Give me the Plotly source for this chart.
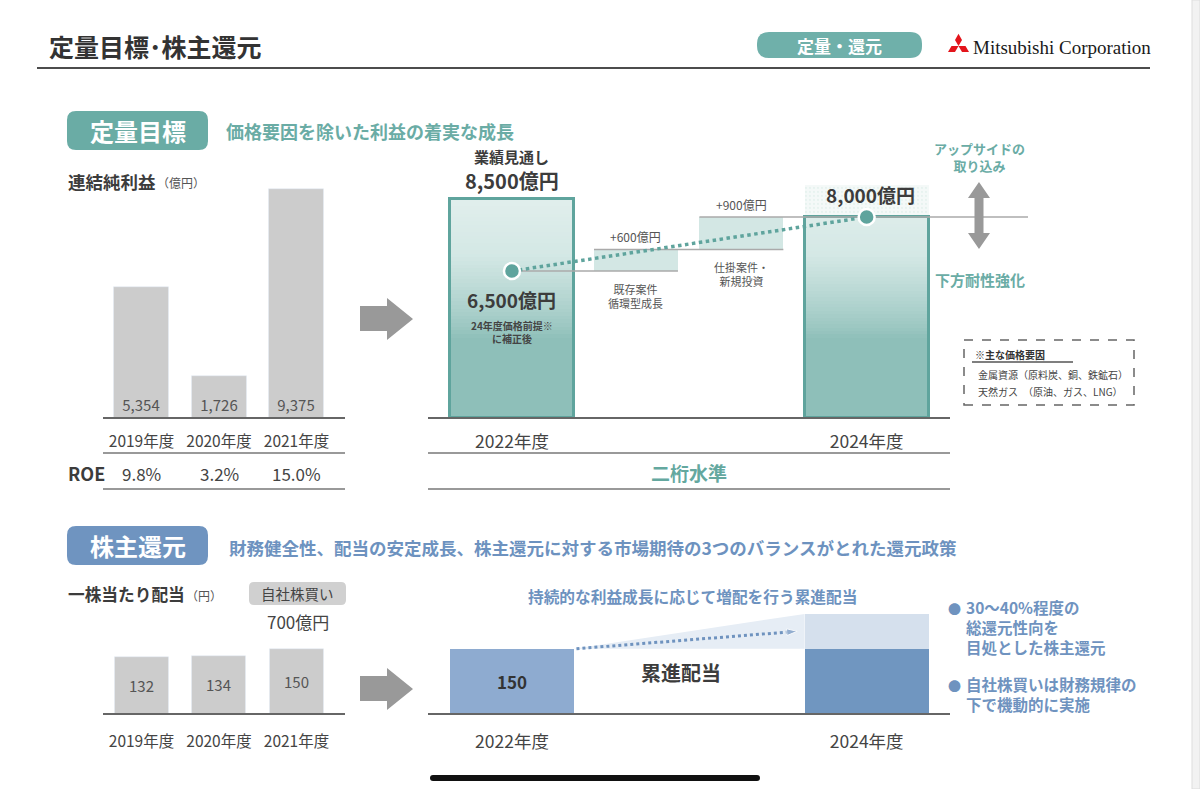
import math
import plotly.graph_objects as go

# --- Data ---
hist_years = ["2019年度", "2020年度", "2021年度"]
net_income = [5354, 1726, 9375]          # 連結純利益 (億円)
roe = [9.8, 3.2, 15.0]                   # ROE (%)
dividend = [132, 134, 150]               # 一株当たり配当 (円)
buyback_label = "700億円"

plan_years = ["2022年度", "2024年度"]
outlook_2022 = 8500                      # 業績見通し
adjusted_2022 = 6500                     # 24年度価格前提に補正後
step_labels = ["既存案件<br>循環型成長", "仕掛案件・<br>新規投資"]
step_values = [600, 900]
target_2024 = 8000
dps_2022 = 150
dps_2024_upside = 80                     # not labelled

# --- Page helpers ---
W, H = 1200, 789
FONT = "Noto Sans CJK JP"
TEAL = "#6aaca5"
TEAL_LINE = "#5fa49d"
BLUE = "#6f94c0"
DARK = "#3c3c3c"


def px(x):
    return x / W


def py(y):
    return 1 - y / H


def pt(x, y):
    return f"{px(x):.5f},{py(y):.5f}"


def rrect(x0, y0, x1, y1, r):
    return (f"M {pt(x0 + r, y0)} L {pt(x1 - r, y0)} Q {pt(x1, y0)} {pt(x1, y0 + r)} "
            f"L {pt(x1, y1 - r)} Q {pt(x1, y1)} {pt(x1 - r, y1)} L {pt(x0 + r, y1)} "
            f"Q {pt(x0, y1)} {pt(x0, y1 - r)} L {pt(x0, y0 + r)} Q {pt(x0, y0)} {pt(x0 + r, y0)} Z")


def poly(points):
    return "M " + " L ".join(pt(x, y) for x, y in points) + " Z"


shapes = []
annotations = []


def path(d, fill, line_color=None, width=0):
    shapes.append(dict(type="path", xref="paper", yref="paper", path=d,
                       fillcolor=fill, line=dict(color=line_color or fill, width=width)))


def hline(x0, x1, y, color="#666666", width=1.5, dash="solid"):
    shapes.append(dict(type="line", xref="paper", yref="paper", x0=px(x0), x1=px(x1),
                       y0=py(y), y1=py(y), line=dict(color=color, width=width, dash=dash)))


def txt(x, y, s, size, color=DARK, bold=False, xanchor="left", family=FONT, **kw):
    annotations.append(dict(x=px(x), y=py(y), xref="paper", yref="paper", text=s,
                            showarrow=False, xanchor=xanchor, yanchor=kw.pop("yanchor", "middle"),
                            align=kw.pop("align", xanchor if xanchor != "center" else "center"),
                            font=dict(family=family, size=size, color=color,
                                      weight="bold" if bold else "normal"), **kw))


def ann(x, y, s, size, xref, yref, color=DARK, bold=False, **kw):
    annotations.append(dict(x=x, y=y, xref=xref, yref=yref, text=s, showarrow=False,
                            font=dict(family=FONT, size=size, color=color,
                                      weight="bold" if bold else "normal"), **kw))


def lerp(c0, c1, t):
    a = [int(c0[i:i + 2], 16) for i in (1, 3, 5)]
    b = [int(c1[i:i + 2], 16) for i in (1, 3, 5)]
    return "#" + "".join(f"{round(a[k] + (b[k] - a[k]) * t):02x}" for k in range(3))


# --- Axes geometry ---
Y2_MIN, Y2_MAX = 2417, 10417
X2_MIN, X2_MAX = -0.677, 4.161
X4_MIN, X4_MAX = -0.677, 3.532
plan_x = [0, 2.86]
step_x = [1.0, 1.85]
BIG_W = 1.0
STEP_W = 0.677

fig = go.Figure()

# --- Top left: 連結純利益 ---
fig.add_trace(go.Bar(
    x=hist_years, y=net_income, width=0.71, marker=dict(color="#cccccc"),
    text=[f"{v:,}" for v in net_income], textposition="inside", insidetextanchor="start",
    textfont=dict(family=FONT, size=15, color="#555555"), textangle=0,
    xaxis="x", yaxis="y", hoverinfo="skip"))


def teal_bar(xpos, top):
    # stacked slices give the light-to-dark vertical gradient of the bars
    n = 60
    bases = [Y2_MIN + (top - Y2_MIN) * i / n for i in range(n)]
    colors = []
    for b in bases:
        if b < 4600:
            colors.append("#8ebfb9")
        elif b < 6900:
            t = (b - 4600) / 2300
            colors.append(lerp("#8ebfb9", "#d4e8e5", t ** 0.8))
        else:
            t = min(1, (b - 6900) / 1700)
            colors.append(lerp("#d4e8e5", "#e2efed", t))
    return go.Bar(
        x=[xpos] * n, base=bases, y=[top - b for b in bases], width=BIG_W,
        marker=dict(color=colors, line=dict(width=0)),
        xaxis="x2", yaxis="y2", hoverinfo="skip")


fig.add_trace(teal_bar(plan_x[0], outlook_2022))
fig.add_trace(teal_bar(plan_x[1], target_2024))

# halftone haze above 2024 bar
fig.add_trace(go.Bar(
    x=[plan_x[1]], base=[target_2024], y=[900], width=BIG_W,
    marker=dict(color="#f4f9f8", line=dict(width=0),
                pattern=dict(shape=".", fgcolor="#dbebe8", bgcolor="#f4f9f8", solidity=0.25, size=4)),
    xaxis="x2", yaxis="y2", hoverinfo="skip"))

# waterfall steps
step_bases = [adjusted_2022, adjusted_2022 + step_values[0]]
fig.add_trace(go.Bar(
    x=step_x, base=step_bases, y=step_values, width=STEP_W,
    marker=dict(color="#d3e7e4", line=dict(width=0)),
    xaxis="x2", yaxis="y2", hoverinfo="skip"))

# connector lines
lvl1 = adjusted_2022 + step_values[0]
lvl2 = lvl1 + step_values[1]
for xs, yv in [([plan_x[0], step_x[0] + STEP_W / 2], adjusted_2022),
               ([step_x[0] - STEP_W / 2, step_x[1] + STEP_W / 2], lvl1),
               ([step_x[1] - STEP_W / 2, X2_MAX], lvl2)]:
    fig.add_trace(go.Scatter(x=xs, y=[yv, yv], mode="lines", line=dict(color="#aaaaaa", width=1.5),
                             xaxis="x2", yaxis="y2", hoverinfo="skip"))

# teal outlines of the big bars
fig.add_trace(go.Bar(
    x=plan_x, base=[Y2_MIN, Y2_MIN], y=[outlook_2022 - Y2_MIN, target_2024 - Y2_MIN], width=BIG_W,
    marker=dict(color="rgba(0,0,0,0)", line=dict(color=TEAL_LINE, width=3)),
    xaxis="x2", yaxis="y2", hoverinfo="skip"))

# dotted growth line
fig.add_trace(go.Scatter(
    x=plan_x, y=[adjusted_2022, target_2024], mode="lines+markers",
    line=dict(color=TEAL_LINE, width=3.5, dash="dot"),
    marker=dict(size=16, color=TEAL_LINE, line=dict(color="white", width=2.5)),
    xaxis="x2", yaxis="y2", hoverinfo="skip"))

# --- Bottom left: 一株当たり配当 ---
fig.add_trace(go.Bar(
    x=hist_years, y=dividend, width=0.70, marker=dict(color="#cccccc"),
    text=[str(v) for v in dividend], textposition="inside", insidetextanchor="middle",
    textfont=dict(family=FONT, size=15, color="#555555"), textangle=0,
    xaxis="x3", yaxis="y3", hoverinfo="skip"))

# --- Bottom middle: 累進配当 ---
dps_top = dps_2022 + dps_2024_upside
wedge_x = [plan_x[0] + BIG_W / 2, plan_x[1] - BIG_W / 2, plan_x[1] - BIG_W / 2]
fig.add_trace(go.Scatter(
    x=wedge_x, y=[dps_2022, dps_top, dps_2022], fill="toself", mode="lines",
    fillcolor="#e6edf5", line=dict(width=0), xaxis="x4", yaxis="y4", hoverinfo="skip"))
fig.add_trace(go.Bar(
    x=plan_x, y=[dps_2022, dps_2022], width=BIG_W,
    marker=dict(color=["#8eabd0", "#7096c0"], line=dict(width=0)),
    text=[str(dps_2022), ""], textposition="inside", insidetextanchor="middle",
    textfont=dict(family=FONT, size=17, color="#333333", weight="bold"), textangle=0,
    xaxis="x4", yaxis="y4", hoverinfo="skip"))
fig.add_trace(go.Bar(
    x=[plan_x[1]], base=[dps_2022], y=[dps_2024_upside], width=BIG_W,
    marker=dict(color="#d5e0ed", line=dict(width=0)),
    xaxis="x4", yaxis="y4", hoverinfo="skip"))
fig.add_trace(go.Scatter(
    x=[plan_x[0] + BIG_W / 2 + 0.02, plan_x[1] - BIG_W / 2 - 0.06],
    y=[dps_2022, dps_2022 + dps_2024_upside / 2], mode="lines+markers",
    line=dict(color="#6f93bf", width=3, dash="dot"),
    marker=dict(symbol="arrow", angleref="previous", size=[0, 11], color="#6f93bf"),
    xaxis="x4", yaxis="y4", hoverinfo="skip"))

# --- Decorations: header ---
txt(47, 46, "定量目標･株主還元", 25, color="#333333", bold=True)
hline(37, 1150, 68, color="#111111", width=1.6)
path(rrect(757, 32, 922, 58, 12), "#6fb0aa")
txt(839.5, 45, "定量・還元", 17, color="white", bold=True, xanchor="center")
# Mitsubishi logo
cx, cy, s = 958.5, 46.0, 7.0
for th in (90, 210, 330):
    pts = []
    for r, a in ((0, 0), (s, th - 30), (s * math.sqrt(3), th), (s, th + 30)):
        pts.append((cx + r * math.cos(math.radians(a)), cy - r * math.sin(math.radians(a))))
    path(poly(pts), "#e3141b")
txt(971, 47, "Mitsubishi Corporation", 19, color="#1a1a1a", family="Liberation Serif")
shapes.append(dict(type="rect", xref="paper", yref="paper", x0=px(1192), x1=1, y0=0, y1=1,
                   fillcolor="#f2f2f2", line=dict(color="#dddddd", width=1)))

# --- Section 1 ---
path(rrect(67, 111, 208, 150, 9), TEAL)
txt(137.5, 130, "定量目標", 24, color="white", bold=True, xanchor="center")
txt(224, 131, "価格要因を除いた利益の着実な成長", 18, color=TEAL, bold=True)
txt(66, 181, "連結純利益", 17.5, bold=True)
txt(155, 182, "（億円）", 12, color="#555555")

hline(103, 345, 418, color="#666666", width=1.8)
hline(103, 345, 453, color="#777777", width=1.3)
hline(103, 345, 489, color="#777777", width=1.3)
txt(66, 473, "ROE", 18, bold=True)
for yr, v in zip(hist_years, roe):
    ann(yr, py(473), f"{v:.1f}%", 17, "x", "paper", color="#444444", yanchor="middle")

path(poly([(360, 306), (387, 306), (387, 298), (413, 319), (387, 340), (387, 331), (360, 331)]), "#999999")

hline(428, 950, 418, color="#666666", width=1.8)
hline(428, 950, 453, color="#777777", width=1.3)
hline(428, 950, 489, color="#777777", width=1.3)
txt(689, 472, "二桁水準", 19, color="#64a89f", bold=True, xanchor="center")

ann(plan_x[0], outlook_2022, "8,500億円", 20, "x2", "y2", bold=True, yanchor="bottom", yshift=2)
ann(plan_x[0], outlook_2022, "業績見通し", 15, "x2", "y2", bold=True, yanchor="bottom", yshift=30)
ann(plan_x[0], adjusted_2022, "6,500億円", 19, "x2", "y2", bold=True, yanchor="top", yshift=-13)
ann(plan_x[0], adjusted_2022, "24年度価格前提※<br>に補正後", 10, "x2", "y2", color="#444444",
    bold=True, yanchor="top", yshift=-45)
ann(plan_x[1] + 0.03, target_2024, f"{target_2024:,}億円", 19, "x2", "y2", bold=True,
    yanchor="bottom", yshift=7)
for xs, base, v, lab in zip(step_x, step_bases, step_values, step_labels):
    ann(xs, base + v, f"+{v}億円", 12, "x2", "y2", color="#555555", yanchor="bottom", yshift=2)
    ann(xs, base, lab, 11, "x2", "y2", color="#555555", yanchor="top", yshift=-8)

# upside / downside arrow
path(poly([(979, 182), (990, 198), (983.5, 198), (983.5, 233), (990, 233), (979, 249),
           (968, 233), (974.5, 233), (974.5, 198), (968, 198)]), "#999999")
txt(979, 157, "アップサイドの<br>取り込み", 13, color=TEAL, bold=True, xanchor="center")
txt(980, 279, "下方耐性強化", 15, color=TEAL, bold=True, xanchor="center")

shapes.append(dict(type="rect", xref="paper", yref="paper", x0=px(964), x1=px(1134),
                   y0=py(405), y1=py(340), line=dict(color="#666666", width=1.5, dash="dash")))
txt(973, 354, "※主な価格要因", 10, color="#333333", bold=True)
hline(972, 1073, 362, color="#555555", width=1.3)
txt(976, 375, "金属資源（原料炭、銅、鉄鉱石）", 10, color="#444444")
txt(976, 391, "天然ガス　（原油、ガス、LNG）", 10, color="#444444")

# --- Section 2 ---
path(rrect(67, 526, 208, 565, 9), BLUE)
txt(137.5, 545.5, "株主還元", 24, color="white", bold=True, xanchor="center")
txt(227, 547, "財務健全性、配当の安定成長、株主還元に対する市場期待の3つのバランスがとれた還元政策",
    17.5, color="#6d92bf", bold=True)
txt(66, 594, "一株当たり配当", 16.7, bold=True)
txt(184, 595, "（円）", 12, color="#555555")
path(rrect(249, 582, 346, 605, 5), "#d0d0d0")
txt(297.5, 593.5, "自社株買い", 14.5, color="#444444", xanchor="center")
txt(297.5, 621, buyback_label, 17, color="#444444", xanchor="center")
hline(103, 345, 714, color="#666666", width=1.8)

path(poly([(360, 676), (387, 676), (387, 668), (413, 689), (387, 710), (387, 701), (360, 701)]), "#999999")

hline(428, 950, 714, color="#666666", width=1.8)
txt(692, 596, "持続的な利益成長に応じて増配を行う累進配当", 15.7, color="#6d92bf", bold=True, xanchor="center")
txt(681, 672, "累進配当", 20, bold=True, xanchor="center")

txt(946, 608, "●", 13, color="#6f93bf")
txt(964, 627, "30～40%程度の<br>総還元性向を<br>目処とした株主還元", 15.5, color="#6f93bf", bold=True)
txt(946, 685, "●", 13, color="#6f93bf")
txt(964, 694, "自社株買いは財務規律の<br>下で機動的に実施", 15.5, color="#6f93bf", bold=True)

# phone home indicator
path(rrect(430, 775, 760, 781, 3), "#111111")

# --- Layout ---
hidden = dict(showgrid=False, zeroline=False, showticklabels=False, showline=False, fixedrange=True)
cat_x = dict(type="category", categoryarray=hist_years, range=[-0.5, 2.5], showgrid=False,
             zeroline=False, showline=False, ticks="", fixedrange=True,
             tickfont=dict(family=FONT, size=15.5, color="#444444"))
plan_tickfont = dict(family=FONT, size=17.5, color="#444444")

fig.update_layout(
    width=W, height=H, margin=dict(l=0, r=0, t=0, b=0),
    paper_bgcolor="white", plot_bgcolor="rgba(0,0,0,0)",
    showlegend=False, barmode="overlay", bargap=0,
    font=dict(family=FONT),
    xaxis=dict(cat_x, domain=[px(102.75), px(335.25)], anchor="y", ticklabelstandoff=12),
    yaxis=dict(hidden, domain=[py(418), py(170)], range=[0, 10164], anchor="x"),
    xaxis2=dict(showgrid=False, zeroline=False, showline=False, ticks="", fixedrange=True,
                domain=[px(428), px(1028)], range=[X2_MIN, X2_MAX], anchor="y2",
                tickmode="array", tickvals=plan_x, ticktext=plan_years, ticklabelstandoff=11,
                tickfont=plan_tickfont),
    yaxis2=dict(hidden, domain=[py(418), py(130)], range=[Y2_MIN, Y2_MAX], anchor="x2"),
    xaxis3=dict(cat_x, domain=[px(102.75), px(335.25)], anchor="y3", ticklabelstandoff=16),
    yaxis3=dict(hidden, domain=[py(714), py(600)], range=[0, 262], anchor="x3"),
    xaxis4=dict(showgrid=False, zeroline=False, showline=False, ticks="", fixedrange=True,
                domain=[px(428), px(950)], range=[X4_MIN, X4_MAX], anchor="y4",
                tickmode="array", tickvals=plan_x, ticktext=plan_years, ticklabelstandoff=15,
                tickfont=plan_tickfont),
    yaxis4=dict(hidden, domain=[py(714), py(600)], range=[0, 262], anchor="x4"),
    shapes=shapes,
    annotations=annotations,
)

fig.write_html("out.html", config={"displayModeBar": False},
               post_script="document.body.style.margin='0';document.body.style.overflow='hidden';")
